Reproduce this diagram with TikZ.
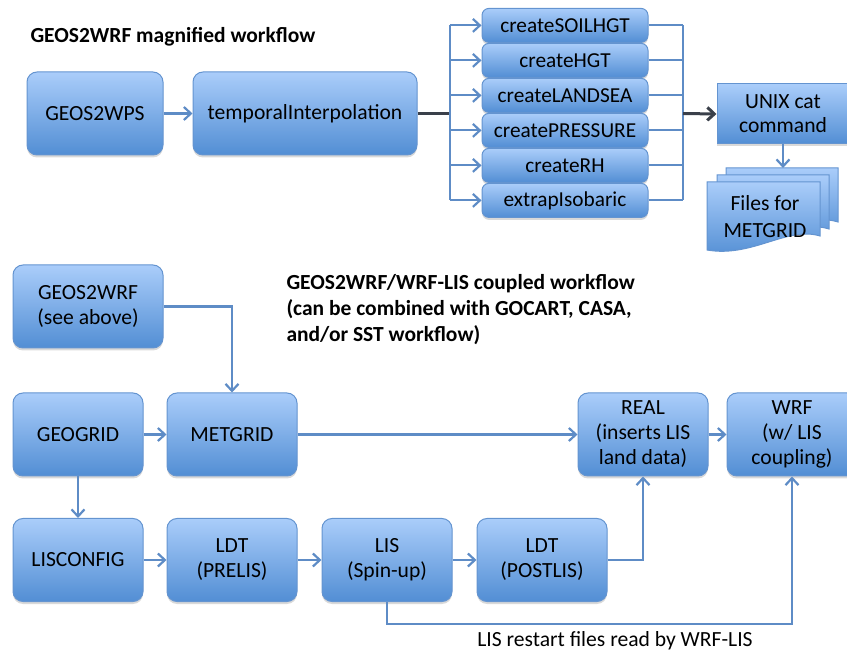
\documentclass[tikz,border=0pt]{standalone}
\usepackage{xcolor}
\usepackage{fontspec}
\setmainfont{Carlito}
\usepackage{tikz}
\usetikzlibrary{positioning}
\usetikzlibrary{shapes,arrows,calc,arrows.meta,shadows}
\definecolor{boxtop}{RGB}{170,205,250}
\definecolor{boxbot}{RGB}{82,142,212}
\definecolor{boxline}{RGB}{100,148,208}
\definecolor{wire}{RGB}{94,140,198}
\definecolor{bus}{RGB}{58,64,74}

\begin{document}
\begin{tikzpicture}[x=1pt,y=-1pt,>={Straight Barb[length=7pt,width=13pt]},
    txt/.style={font=\fontsize{21.6}{25}\selectfont},
    wf/.style={txt,draw=boxline,line width=1pt,top color=boxtop,bottom color=boxbot,
      rounded corners=10pt,minimum width=130pt,minimum height=83pt,align=center,
      drop shadow={shadow xshift=0pt,shadow yshift=-2.5pt,opacity=0.3}},
    sub/.style={wf,font=\fontsize{21.3}{24}\selectfont,minimum width=166pt,minimum height=34pt,rounded corners=7pt},
    doc/.style={draw=boxline,line width=1pt,top color=boxtop,bottom color=boxbot},
    wire/.style={draw=wire,line width=2.2pt},
    busline/.style={draw=bus,line width=3pt},
    hd/.style={font=\fontsize{21.5}{26}\selectfont\bfseries,align=left}]
  \useasboundingbox (0,0) rectangle (847,652);
  \node[hd,anchor=west] (title1) at (27,37) {GEOS2WRF magnified workflow};
  \node[wf,minimum width=136pt] (wps) at (95,113.5) {GEOS2WPS};
  \node[wf,minimum width=224pt] (temp) at (305,113.5) {temporalInterpolation};
  \node[sub] (soil) at (565,25.4) {createSOILHGT};
  \node[sub,below=0pt of soil] (hgt) {createHGT};
  \node[sub,below=0pt of hgt] (landsea) {createLANDSEA};
  \node[sub,below=0pt of landsea] (pres) {createPRESSURE};
  \node[sub,below=0pt of pres] (rh) {createRH};
  \node[sub,below=0pt of rh] (extrap) {extrapIsobaric};
  \node[wf,rounded corners=0pt,minimum width=132pt,minimum height=60pt,font=\fontsize{21.6}{24}\selectfont] (cat) at (783,114) {UNIX cat\\command};
  \coordinate (split) at (450,113.5);
  \coordinate (join) at (683,113.5);
  \coordinate (docin) at (783,168);
  \path[doc] (726,168) -- (838,168) -- (838,222) .. controls (805,212) and (770,238) .. (726,230) -- cycle;
  \path[doc] (717,175) -- (829,175) -- (829,229) .. controls (796,219) and (761,245) .. (717,237) -- cycle;
  \path[doc] (707,182) -- (820,182) -- (820,236) .. controls (787,226) and (752,258) .. (707,250) -- cycle;
  \node[txt,align=center,font=\fontsize{21.6}{27}\selectfont] (files) at (765,217) {Files for\\METGRID};

  \node[wf,minimum width=150pt] (geos) at (88,306.5) {GEOS2WRF\\(see above)};
  \node[hd,anchor=west] (title2) at (283,309.5) {GEOS2WRF/WRF-LIS coupled workflow\\(can be combined with GOCART, CASA,\\and/or SST workflow)};
  \node[wf] (geogrid) at (78,434.5) {GEOGRID};
  \node[wf] (metgrid) at (232,434.5) {METGRID};
  \node[wf] (real) at (643,434.5) {REAL\\(inserts LIS\\land data)};
  \node[wf] (wrf) at (792,434.5) {WRF\\(w/ LIS\\coupling)};
  \node[wf] (lisconfig) at (78,560) {LISCONFIG};
  \node[wf] (prelis) at (232,560) {LDT\\(PRELIS)};
  \node[wf] (lis) at (387,560) {LIS\\(Spin-up)};
  \node[wf] (postlis) at (542,560) {LDT\\(POSTLIS)};
  \node[txt] (restart) at (615,641) {LIS restart files read by WRF-LIS};

  \path[wire,->] (wps) edge (temp)
        (geogrid) edge (metgrid)
        (metgrid) edge (real)
        (real) edge (wrf)
        (geogrid) edge (lisconfig)
        (lisconfig) edge (prelis)
        (prelis) edge (lis)
        (lis) edge (postlis)
        (cat) edge (docin);
  \draw[busline] (temp.east) -- (split);
  \draw[wire] (split |- soil.west) -- (split |- extrap.west);
  \draw[wire] (join |- soil.east) -- (join |- extrap.east);
  \draw[busline,->] (join) -- (cat.west);
  \foreach \b in {soil,hgt,landsea,pres,rh,extrap}{
    \draw[wire,->] (split |- \b.west) -- (\b.west);
    \draw[wire] (\b.east) -- (join |- \b.east);
  }
  \draw[wire,->] (geos.east) -| (metgrid.north);
  \draw[wire,->] (postlis.east) -| (real.south);
  \draw[wire,->] (lis.south) -- ++(0,22) -| (wrf.south);
\end{tikzpicture}
\end{document}
